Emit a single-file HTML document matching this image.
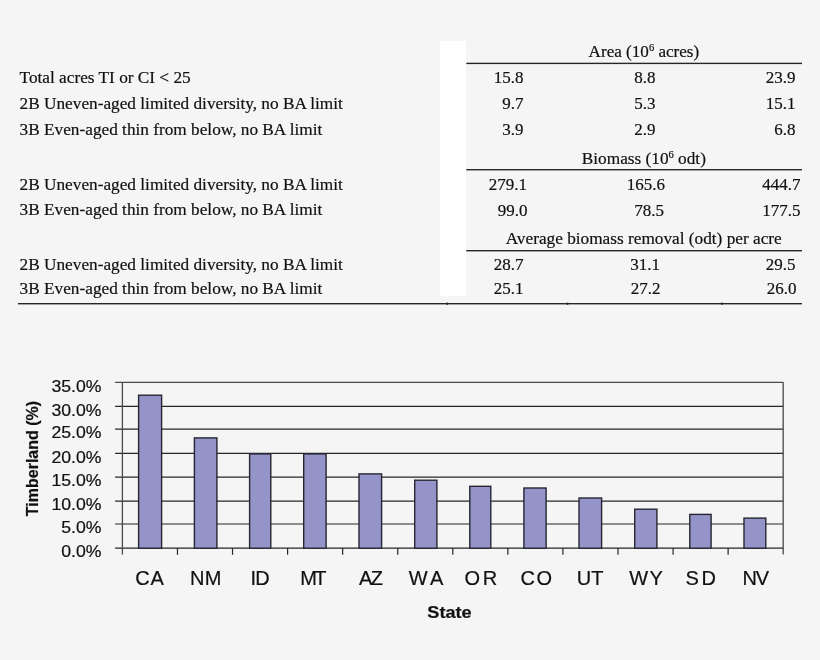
<!DOCTYPE html><html><head><meta charset="utf-8"><style>html,body{margin:0;padding:0;background:#f5f5f5;}svg{display:block;filter:blur(0.4px)}</style></head><body>
<svg width="820" height="660" viewBox="0 0 820 660">
<rect x="0" y="0" width="820" height="660" fill="#f5f5f5"/>
<rect x="440" y="41" width="26" height="255" fill="#ffffff"/>
<text x="19.6" y="82.7" font-size="17.25" font-family="Liberation Serif" fill="#111" stroke="#111" stroke-width="0.2">Total acres TI or CI &lt; 25</text>
<text x="19.6" y="108.7" font-size="17.25" font-family="Liberation Serif" fill="#111" stroke="#111" stroke-width="0.2">2B Uneven-aged limited diversity, no BA limit</text>
<text x="19.6" y="134.7" font-size="17.25" font-family="Liberation Serif" fill="#111" stroke="#111" stroke-width="0.2">3B Even-aged thin from below, no BA limit</text>
<text x="19.6" y="189.7" font-size="17.25" font-family="Liberation Serif" fill="#111" stroke="#111" stroke-width="0.2">2B Uneven-aged limited diversity, no BA limit</text>
<text x="19.6" y="215.3" font-size="17.25" font-family="Liberation Serif" fill="#111" stroke="#111" stroke-width="0.2">3B Even-aged thin from below, no BA limit</text>
<text x="19.6" y="269.5" font-size="17.25" font-family="Liberation Serif" fill="#111" stroke="#111" stroke-width="0.2">2B Uneven-aged limited diversity, no BA limit</text>
<text x="19.6" y="293.8" font-size="17.25" font-family="Liberation Serif" fill="#111" stroke="#111" stroke-width="0.2">3B Even-aged thin from below, no BA limit</text>
<text x="588.6" y="56.7" font-size="17.1" font-family="Liberation Serif" fill="#111" stroke="#111" stroke-width="0.2">Area (10<tspan font-size="10.5" dy="-5.5">6</tspan><tspan dy="5.5"> acres)</tspan></text>
<text x="581.8" y="163.6" font-size="17.25" font-family="Liberation Serif" fill="#111" stroke="#111" stroke-width="0.2">Biomass (10<tspan font-size="10.5" dy="-5.5">6</tspan><tspan dy="5.5"> odt)</tspan></text>
<text x="505.7" y="244.3" font-size="17.25" font-family="Liberation Serif" fill="#111" stroke="#111" stroke-width="0.2">Average biomass removal (odt) per acre</text>
<text x="523.5" y="83" text-anchor="end" font-size="17" font-family="Liberation Serif" fill="#111" stroke="#111" stroke-width="0.2">15.8</text>
<text x="655.5" y="83" text-anchor="end" font-size="17" font-family="Liberation Serif" fill="#111" stroke="#111" stroke-width="0.2">8.8</text>
<text x="795.5" y="83" text-anchor="end" font-size="17" font-family="Liberation Serif" fill="#111" stroke="#111" stroke-width="0.2">23.9</text>
<text x="523.5" y="109" text-anchor="end" font-size="17" font-family="Liberation Serif" fill="#111" stroke="#111" stroke-width="0.2">9.7</text>
<text x="655.5" y="109" text-anchor="end" font-size="17" font-family="Liberation Serif" fill="#111" stroke="#111" stroke-width="0.2">5.3</text>
<text x="795.5" y="108.8" text-anchor="end" font-size="17" font-family="Liberation Serif" fill="#111" stroke="#111" stroke-width="0.2">15.1</text>
<text x="523.5" y="134.7" text-anchor="end" font-size="17" font-family="Liberation Serif" fill="#111" stroke="#111" stroke-width="0.2">3.9</text>
<text x="655.5" y="134.7" text-anchor="end" font-size="17" font-family="Liberation Serif" fill="#111" stroke="#111" stroke-width="0.2">2.9</text>
<text x="795.5" y="135" text-anchor="end" font-size="17" font-family="Liberation Serif" fill="#111" stroke="#111" stroke-width="0.2">6.8</text>
<text x="527" y="189.7" text-anchor="end" font-size="17" font-family="Liberation Serif" fill="#111" stroke="#111" stroke-width="0.2">279.1</text>
<text x="665" y="189.7" text-anchor="end" font-size="17" font-family="Liberation Serif" fill="#111" stroke="#111" stroke-width="0.2">165.6</text>
<text x="800.5" y="189.7" text-anchor="end" font-size="17" font-family="Liberation Serif" fill="#111" stroke="#111" stroke-width="0.2">444.7</text>
<text x="527.5" y="215.8" text-anchor="end" font-size="17" font-family="Liberation Serif" fill="#111" stroke="#111" stroke-width="0.2">99.0</text>
<text x="664" y="215.8" text-anchor="end" font-size="17" font-family="Liberation Serif" fill="#111" stroke="#111" stroke-width="0.2">78.5</text>
<text x="800.5" y="215.8" text-anchor="end" font-size="17" font-family="Liberation Serif" fill="#111" stroke="#111" stroke-width="0.2">177.5</text>
<text x="523.5" y="269.8" text-anchor="end" font-size="17" font-family="Liberation Serif" fill="#111" stroke="#111" stroke-width="0.2">28.7</text>
<text x="660" y="270" text-anchor="end" font-size="17" font-family="Liberation Serif" fill="#111" stroke="#111" stroke-width="0.2">31.1</text>
<text x="795.5" y="270" text-anchor="end" font-size="17" font-family="Liberation Serif" fill="#111" stroke="#111" stroke-width="0.2">29.5</text>
<text x="523.5" y="293.7" text-anchor="end" font-size="17" font-family="Liberation Serif" fill="#111" stroke="#111" stroke-width="0.2">25.1</text>
<text x="660.5" y="293.9" text-anchor="end" font-size="17" font-family="Liberation Serif" fill="#111" stroke="#111" stroke-width="0.2">27.2</text>
<text x="796.5" y="293.8" text-anchor="end" font-size="17" font-family="Liberation Serif" fill="#111" stroke="#111" stroke-width="0.2">26.0</text>
<rect x="466.3" y="62.70" width="335.7" height="1.4" fill="#262626"/>
<rect x="466.3" y="169.00" width="335.7" height="1.4" fill="#262626"/>
<rect x="466.3" y="250.00" width="335.7" height="1.4" fill="#262626"/>
<rect x="18" y="303.00" width="784" height="1.4" fill="#262626"/>
<rect x="446.5" y="302.6" width="1.6" height="2.2" fill="#222"/>
<rect x="566.7" y="302.6" width="1.6" height="2.2" fill="#222"/>
<rect x="721.2" y="302.6" width="1.6" height="2.2" fill="#222"/>
<line x1="115.1" y1="382.3" x2="783.2" y2="382.3" stroke="#4a4a4a" stroke-width="1.2"/>
<line x1="115.1" y1="406.4" x2="783.2" y2="406.4" stroke="#262626" stroke-width="1.2"/>
<line x1="115.1" y1="429.2" x2="783.2" y2="429.2" stroke="#262626" stroke-width="1.2"/>
<line x1="115.1" y1="453.3" x2="783.2" y2="453.3" stroke="#262626" stroke-width="1.2"/>
<line x1="115.1" y1="477.2" x2="783.2" y2="477.2" stroke="#262626" stroke-width="1.2"/>
<line x1="115.1" y1="501.1" x2="783.2" y2="501.1" stroke="#262626" stroke-width="1.2"/>
<line x1="115.1" y1="524.0" x2="783.2" y2="524.0" stroke="#262626" stroke-width="1.2"/>
<line x1="115.1" y1="548.2" x2="783.2" y2="548.2" stroke="#262626" stroke-width="1.2"/>
<line x1="122.4" y1="382.3" x2="122.4" y2="554.6" stroke="#4a4a4a" stroke-width="1.3"/>
<line x1="783.2" y1="382.3" x2="783.2" y2="554.6" stroke="#4a4a4a" stroke-width="1.3"/>
<line x1="177.47" y1="548" x2="177.47" y2="554.8" stroke="#262626" stroke-width="1.2"/>
<line x1="232.53" y1="548" x2="232.53" y2="554.8" stroke="#262626" stroke-width="1.2"/>
<line x1="287.60" y1="548" x2="287.60" y2="554.8" stroke="#262626" stroke-width="1.2"/>
<line x1="342.67" y1="548" x2="342.67" y2="554.8" stroke="#262626" stroke-width="1.2"/>
<line x1="397.73" y1="548" x2="397.73" y2="554.8" stroke="#262626" stroke-width="1.2"/>
<line x1="452.80" y1="548" x2="452.80" y2="554.8" stroke="#262626" stroke-width="1.2"/>
<line x1="507.87" y1="548" x2="507.87" y2="554.8" stroke="#262626" stroke-width="1.2"/>
<line x1="562.93" y1="548" x2="562.93" y2="554.8" stroke="#262626" stroke-width="1.2"/>
<line x1="618.00" y1="548" x2="618.00" y2="554.8" stroke="#262626" stroke-width="1.2"/>
<line x1="673.07" y1="548" x2="673.07" y2="554.8" stroke="#262626" stroke-width="1.2"/>
<line x1="728.13" y1="548" x2="728.13" y2="554.8" stroke="#262626" stroke-width="1.2"/>
<rect x="138.60" y="395.2" width="23.00" height="153.00" fill="#9494c8" stroke="#262633" stroke-width="1.4"/>
<rect x="194.40" y="437.9" width="22.50" height="110.30" fill="#9494c8" stroke="#262633" stroke-width="1.4"/>
<rect x="249.60" y="453.9" width="21.20" height="94.30" fill="#9494c8" stroke="#262633" stroke-width="1.4"/>
<rect x="303.70" y="453.9" width="22.40" height="94.30" fill="#9494c8" stroke="#262633" stroke-width="1.4"/>
<rect x="359.00" y="473.9" width="22.60" height="74.30" fill="#9494c8" stroke="#262633" stroke-width="1.4"/>
<rect x="414.70" y="480.2" width="22.20" height="68.00" fill="#9494c8" stroke="#262633" stroke-width="1.4"/>
<rect x="469.80" y="486.3" width="21.00" height="61.90" fill="#9494c8" stroke="#262633" stroke-width="1.4"/>
<rect x="523.90" y="488.0" width="22.20" height="60.20" fill="#9494c8" stroke="#262633" stroke-width="1.4"/>
<rect x="579.00" y="498.0" width="22.60" height="50.20" fill="#9494c8" stroke="#262633" stroke-width="1.4"/>
<rect x="634.70" y="509.2" width="22.20" height="39.00" fill="#9494c8" stroke="#262633" stroke-width="1.4"/>
<rect x="689.80" y="514.4000000000001" width="21.30" height="33.80" fill="#9494c8" stroke="#262633" stroke-width="1.4"/>
<rect x="744.00" y="518.1" width="21.80" height="30.10" fill="#9494c8" stroke="#262633" stroke-width="1.4"/>
<text transform="translate(101.5,391.5) scale(1.04,1)" text-anchor="end" font-size="17" font-family="Liberation Sans" fill="#111" stroke="#111" stroke-width="0.2">35.0%</text>
<text transform="translate(101.5,415.6) scale(1.04,1)" text-anchor="end" font-size="17" font-family="Liberation Sans" fill="#111" stroke="#111" stroke-width="0.2">30.0%</text>
<text transform="translate(101.5,438.4) scale(1.04,1)" text-anchor="end" font-size="17" font-family="Liberation Sans" fill="#111" stroke="#111" stroke-width="0.2">25.0%</text>
<text transform="translate(101.5,462.5) scale(1.04,1)" text-anchor="end" font-size="17" font-family="Liberation Sans" fill="#111" stroke="#111" stroke-width="0.2">20.0%</text>
<text transform="translate(101.5,486.4) scale(1.04,1)" text-anchor="end" font-size="17" font-family="Liberation Sans" fill="#111" stroke="#111" stroke-width="0.2">15.0%</text>
<text transform="translate(101.5,510.3) scale(1.04,1)" text-anchor="end" font-size="17" font-family="Liberation Sans" fill="#111" stroke="#111" stroke-width="0.2">10.0%</text>
<text transform="translate(101.5,533.2) scale(1.04,1)" text-anchor="end" font-size="17" font-family="Liberation Sans" fill="#111" stroke="#111" stroke-width="0.2">5.0%</text>
<text transform="translate(101.5,557.4) scale(1.04,1)" text-anchor="end" font-size="17" font-family="Liberation Sans" fill="#111" stroke="#111" stroke-width="0.2">0.0%</text>
<text x="135.3" y="585.4" textLength="28.60" lengthAdjust="spacing" font-size="20" font-family="Liberation Sans" fill="#111" stroke="#111" stroke-width="0.2">CA</text>
<text x="190.0" y="585.4" textLength="31.31" lengthAdjust="spacing" font-size="20" font-family="Liberation Sans" fill="#111" stroke="#111" stroke-width="0.2">NM</text>
<text x="250.6" y="585.4" textLength="19.00" lengthAdjust="spacing" font-size="20" font-family="Liberation Sans" fill="#111" stroke="#111" stroke-width="0.2">ID</text>
<text x="300.3" y="585.4" textLength="26.29" lengthAdjust="spacing" font-size="20" font-family="Liberation Sans" fill="#111" stroke="#111" stroke-width="0.2">MT</text>
<text x="358.9" y="585.4" textLength="23.96" lengthAdjust="spacing" font-size="20" font-family="Liberation Sans" fill="#111" stroke="#111" stroke-width="0.2">AZ</text>
<text x="408.7" y="585.4" textLength="34.58" lengthAdjust="spacing" font-size="20" font-family="Liberation Sans" fill="#111" stroke="#111" stroke-width="0.2">WA</text>
<text x="464.6" y="585.4" textLength="32.50" lengthAdjust="spacing" font-size="20" font-family="Liberation Sans" fill="#111" stroke="#111" stroke-width="0.2">OR</text>
<text x="520.4" y="585.4" textLength="31.70" lengthAdjust="spacing" font-size="20" font-family="Liberation Sans" fill="#111" stroke="#111" stroke-width="0.2">CO</text>
<text x="576.8" y="585.4" textLength="26.77" lengthAdjust="spacing" font-size="20" font-family="Liberation Sans" fill="#111" stroke="#111" stroke-width="0.2">UT</text>
<text x="629.2" y="585.4" textLength="33.52" lengthAdjust="spacing" font-size="20" font-family="Liberation Sans" fill="#111" stroke="#111" stroke-width="0.2">WY</text>
<text x="685.6" y="585.4" textLength="30.30" lengthAdjust="spacing" font-size="20" font-family="Liberation Sans" fill="#111" stroke="#111" stroke-width="0.2">SD</text>
<text x="742.6" y="585.4" textLength="26.50" lengthAdjust="spacing" font-size="20" font-family="Liberation Sans" fill="#111" stroke="#111" stroke-width="0.2">NV</text>
<text transform="translate(449.5,618.4) scale(1.05,1)" text-anchor="middle" font-size="17.3" font-weight="bold" font-family="Liberation Sans" fill="#111" stroke="#111" stroke-width="0.2">State</text>
<text transform="translate(37.6,458.5) rotate(-90)" x="0" y="0" text-anchor="middle" font-size="16" font-weight="bold" font-family="Liberation Sans" fill="#111" stroke="#111" stroke-width="0.2">Timberland (%)</text>
</svg></body></html>
